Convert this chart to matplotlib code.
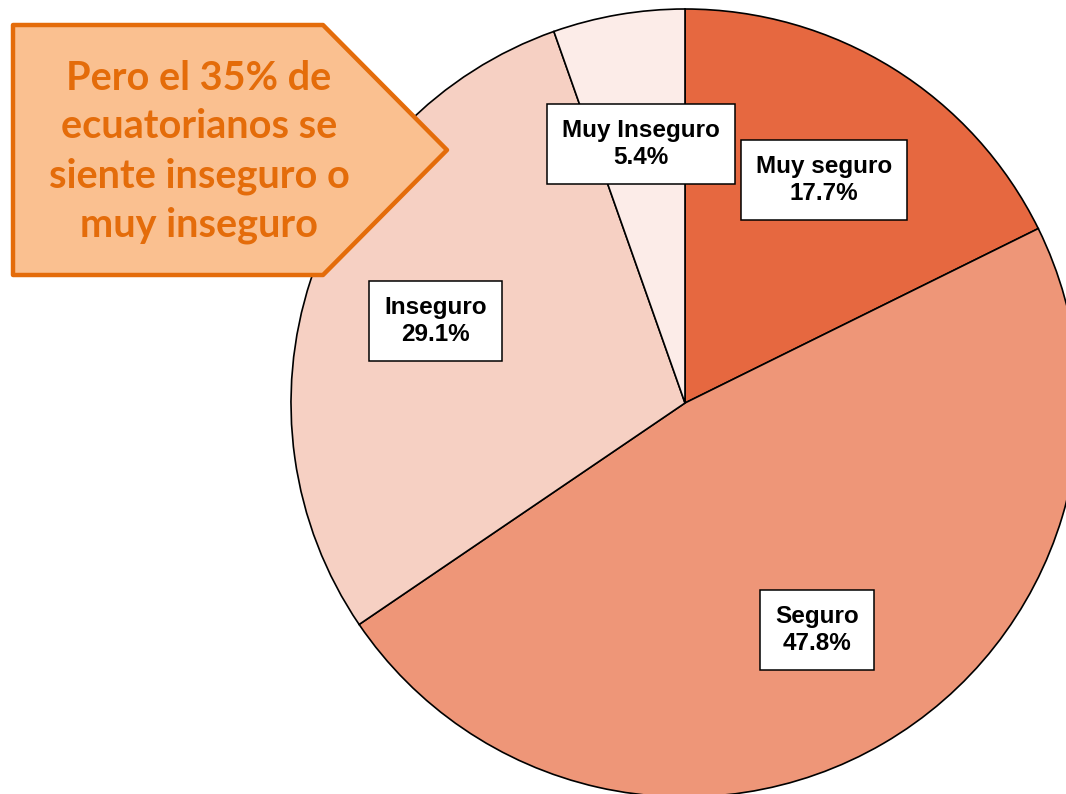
import matplotlib.pyplot as plt
from matplotlib.patches import Polygon

# data
categories = ['Muy seguro', 'Seguro', 'Inseguro', 'Muy Inseguro']
values = [17.7, 47.8, 29.1, 5.4]
colors = ['#E66840', '#EE9678', '#F6D0C3', '#FCECE8']
callout_text = 'Pero el 35% de\necuatorianos se\nsiente inseguro o\nmuy inseguro'

W, H = 1066, 794

fig = plt.figure(figsize=(W / 100, H / 100), dpi=100)
ax = fig.add_axes([0, 0, 1, 1])

# pie, measured in pixel units (y up)
labels_iter = iter(categories)
wedges, texts, autotexts = ax.pie(
    values, colors=colors, startangle=90, counterclock=False,
    center=(685, H - 403), radius=394, frame=True,
    wedgeprops=dict(edgecolor='black', linewidth=1.2),
    autopct=lambda p: '%s\n%.1f%%' % (next(labels_iter), p),
    pctdistance=0.667)
for t in autotexts:
    t.set_family(['Liberation Sans', 'DejaVu Sans'])
    t.set_fontweight('bold')
    t.set_fontsize(17.5)
    t.set_linespacing(1.2)
    t.set_color('black')
    t.set_bbox(dict(boxstyle='square,pad=0.62', facecolor='white',
                    edgecolor='black', linewidth=1.1))
ax.set_xlim(0, W)
ax.set_ylim(0, H)
ax.set_aspect('equal')
ax.axis('off')

# callout arrow box
pts = [(13, 25), (323, 25), (447, 150), (323, 275), (13, 275)]
pts = [(x, H - y) for x, y in pts]
ax.add_patch(Polygon(pts, closed=True, facecolor='#FAC090',
                     edgecolor='#E46C0A', linewidth=3.2, joinstyle='round',
                     zorder=5))
ax.text(199, H - 152, callout_text, ha='center', va='center',
        fontsize=28.5, fontweight='bold', color='#E46C0A',
        family=['Lato', 'DejaVu Sans'], linespacing=1.4, zorder=6)

fig.savefig('out.png', dpi=100)
